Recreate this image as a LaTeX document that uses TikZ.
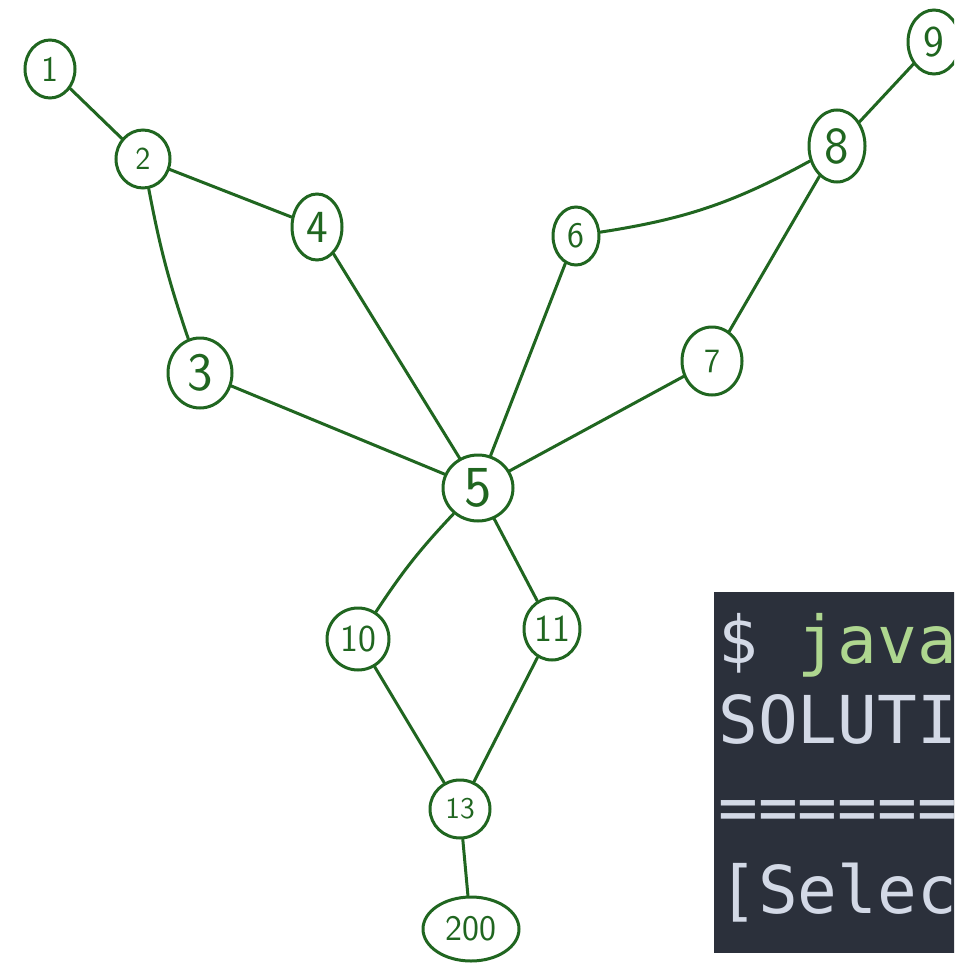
\documentclass[tikz,border=0pt]{standalone}
\usepackage{fontspec}
\newfontfamily\termfont{DejaVu Sans Mono}
\usetikzlibrary{shapes.geometric}

\definecolor{ink}{RGB}{32,102,32}
\definecolor{termbg}{RGB}{43,48,59}
\definecolor{termfg}{RGB}{211,217,230}
\definecolor{termgreen}{RGB}{174,214,143}

\tikzset{
  vtx/.style={ellipse, draw=ink, line width=1.5pt, inner sep=0pt,
    text=ink, font=\sffamily},
  fs/.style={font=\sffamily\fontsize{#1}{#1}\selectfont},
  link/.style={draw=ink, line width=1.5pt, line cap=round},
  termline/.style={anchor=base west, inner sep=0pt, text=termfg,
    font=\termfont\fontsize{33}{33}\selectfont},
}

\begin{document}
\begin{tikzpicture}[x=0.5pt, y=-0.5pt]
  \useasboundingbox (0,0) rectangle (954,974);
  \clip (0,0) rectangle (954,974);
  \fill[white] (0,0) rectangle (954,974);

  % vertices
  \node[vtx, fs=18, minimum width=25pt, minimum height=29pt] (n1) at (50,69) {1};
  \node[vtx, fs=16, minimum width=27pt, minimum height=29pt] (n2) at (143,159) {2};
  \node[vtx, fs=27, minimum width=32pt, minimum height=35pt] (n3) at (200,373) {3};
  \node[vtx, fs=23, minimum width=25pt, minimum height=33pt] (n4) at (317,227) {4};
  \node[vtx, fs=29, minimum width=35pt, minimum height=33pt] (n5) at (478,488) {5};
  \node[vtx, fs=18, minimum width=23pt, minimum height=29pt] (n6) at (576,236) {6};
  \node[vtx, fs=17, minimum width=30pt, minimum height=34pt] (n7) at (712,361) {7};
  \node[vtx, fs=26, minimum width=28pt, minimum height=36pt] (n8) at (837,146) {8};
  \node[vtx, fs=22, minimum width=26pt, minimum height=32pt] (n9) at (934,42) {9};
  \node[vtx, fs=19, minimum width=31pt, minimum height=31pt] (n10) at (358,639) {10};
  \node[vtx, fs=19, minimum width=28pt, minimum height=31pt] (n11) at (552,629) {11};
  \node[vtx, fs=15, minimum width=30pt, minimum height=29pt] (n13) at (460,809) {13};
  \node[vtx, fs=18, minimum width=48pt, minimum height=32pt] (n200) at (471,929) {200};

  % edges
  \draw[link] (n1) -- (n2);
  \draw[link] (n2) -- (n4);
  \draw[link] (n2) to[bend right=4] (n3);
  \draw[link] (n4) -- (n5);
  \draw[link] (n3) -- (n5);
  \draw[link] (n6) -- (n5);
  \draw[link] (n7) -- (n5);
  \draw[link] (n6) to[bend right=10] (n8);
  \draw[link] (n8) -- (n7);
  \draw[link] (n8) -- (n9);
  \draw[link] (n5) to[bend right=5] (n10);
  \draw[link] (n5) -- (n11);
  \draw[link] (n10) -- (n13);
  \draw[link] (n11) -- (n13);
  \draw[link] (n13) -- (n200);

  % terminal panel
  \fill[termbg] (714,592) rectangle (960,953);
  \node[termline] (t1) at (718,663) {\$ \textcolor{termgreen}{java}};
  \node[termline] (t2) at (718,743) {SOLUTI};
  \node[termline] (t3) at (718,830) {=======};
  \node[termline] (t4) at (718,913) {[Selec};
\end{tikzpicture}
\end{document}
